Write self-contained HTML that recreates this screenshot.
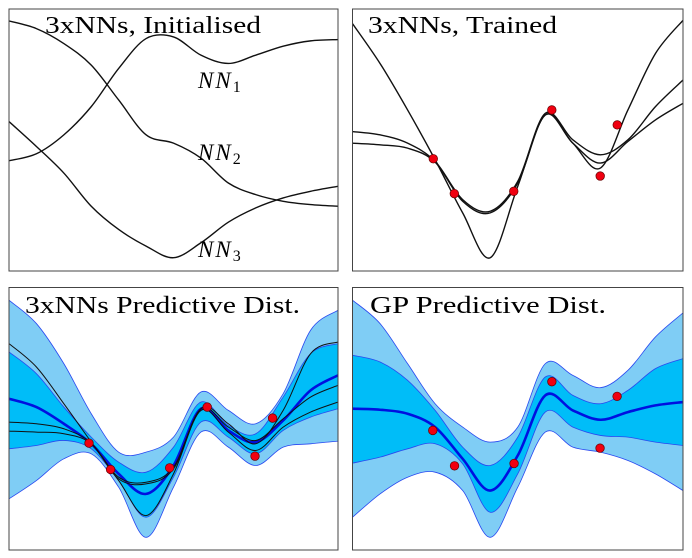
<!DOCTYPE html>
<html><head><meta charset="utf-8"><style>
body{margin:0;background:#fff;width:692px;height:558px;overflow:hidden}
svg{display:block}
text{font-family:"Liberation Serif",serif;fill:#000}
</style></head><body>
<svg id="fig" width="692" height="558"></svg>
<script>
// ---- data (in reading units per panel) ----
const sampleX = [0,1,2,3,4,5,6,7,8,9,10,11,12];
// top-left: initialised networks
const nn1 = [483,462,405,320,205,115,110,165,190,165,138,122,118];
const nn2 = [62,85,130,195,300,405,430,475,550,585,605,615,620];
const nn3 = [365,440,520,620,690,740,775,730,668,625,595,575,560];
// top-right: trained networks
const trainedA = [70,190,330,480,640,775,560,345,430,505,330,160,60];
const trainedB = [395,405,430,485,600,635,545,340,420,465,420,320,240];
const trainedC = [430,435,445,487,605,640,550,345,430,490,425,360,310];
const trainPtsX = [262,325,503,617,762,813];
const trainPtsY = [477,582,575,330,529,375];
// bottom-left: ensemble predictive
const ensOuterUp = [60,130,250,400,515,515,470,335,390,430,340,150,90];
const ensOuterLo = [655,600,535,520,620,770,620,455,500,555,500,490,482];
const ensInnerUp = [215,280,380,470,545,575,500,365,435,460,350,220,190];
const ensInnerLo = [505,495,480,505,600,710,590,425,470,520,450,410,385];
const ensMean = [355,380,430,490,580,640,555,385,450,485,420,330,285];
const ensA = [190,260,370,485,600,705,580,385,430,490,390,220,185];
const ensB = [425,430,445,488,590,605,560,385,440,480,415,350,315];
const ensC = [452,455,460,490,595,610,565,390,455,510,440,395,365];
const ensPtsX = [267,332,510,623,767,820];
const ensPtsY = [488,567,562,380,527,413];
// bottom-right: GP predictive
const gpOuterUp = [60,130,250,370,440,485,440,250,285,322,270,170,98];
const gpOuterLo = [710,640,590,575,630,770,620,455,500,515,540,580,630];
const gpInnerUp = [225,245,300,390,500,555,470,290,345,370,330,265,235];
const gpInnerLo = [548,530,505,490,550,695,580,395,440,465,470,485,495];
const gpMean = [385,388,400,440,535,630,525,345,390,418,395,375,365];
const gpPtsX = [262,327,505,618,762,813];
const gpPtsY = [450,556,549,304,503,348];

const NS='http://www.w3.org/2000/svg';
const svg=document.getElementById('fig');
function mk(tag,attrs,parent){const e=document.createElementNS(NS,tag);for(const k in attrs)e.setAttribute(k,attrs[k]);(parent||svg).appendChild(e);return e;}
function lin(d0,d1,r0,r1){return v=>r0+(v-d0)/(d1-d0)*(r1-r0);}
function pathPts(pts){
  let d='M'+pts[0][0]+','+pts[0][1];
  for(let i=0;i<pts.length-1;i++){
    const p0=pts[Math.max(i-1,0)],p1=pts[i],p2=pts[i+1],p3=pts[Math.min(i+2,pts.length-1)];
    const c1=[p1[0]+(p2[0]-p0[0])/6,p1[1]+(p2[1]-p0[1])/6];
    const c2=[p2[0]-(p3[0]-p1[0])/6,p2[1]-(p3[1]-p1[1])/6];
    d+=' C'+c1+' '+c2+' '+p2;
  }
  return d;
}
function makePanel(name,box,ydom,id){
  const g=mk('g',{});
  
  
  const cp=mk('clipPath',{id:id},g);
  mk('rect',{x:box[0],y:box[1],width:box[2]-box[0],height:box[3]-box[1]},cp);
  const inner=mk('g',{'clip-path':'url(#'+id+')'},g);
  return {g,inner,box,
    x:lin(0,12,box[0],box[2]),
    y:lin(ydom[0],ydom[1],box[1],box[3])};
}
function curve(P,vals,stroke,w,name){
  const pts=sampleX.map((s,i)=>[P.x(s),P.y(vals[i])]);
  const p=mk('path',{d:pathPts(pts),fill:'none',stroke:stroke,'stroke-width':w},P.inner);
  
  
}
function band(P,up,lo,fill,name){
  const a=sampleX.map((s,i)=>[P.x(s),P.y(up[i])]);
  const b=sampleX.map((s,i)=>[P.x(s),P.y(lo[i])]).reverse();
  const d=pathPts(a)+' L'+b[0]+' '+pathPts(b).slice(1)+' Z';
  const p=mk('path',{d:d,fill:fill,stroke:'#2848f0','stroke-width':0.8},P.inner);
  
  
}
function dots(P,xs,ys,xdom,name){
  const sx=lin(xdom[0],xdom[1],P.box[0],P.box[2]);
  xs.forEach((xv,i)=>{
    const c=mk('circle',{cx:sx(xv),cy:P.y(ys[i]),r:4.3,fill:'#f00010',stroke:'#600','stroke-width':0.7},P.inner);
    
    
  });
}
function frame(P){
  const b=P.box;
  const r=mk('rect',{x:b[0],y:b[1],width:b[2]-b[0],height:b[3]-b[1],fill:'none',stroke:'#444','stroke-width':1},P.g);
  
  
}
function label(P,x,y,txt,name,len){
  const t=mk('text',{x:x,y:y,'font-size':24,textLength:len,lengthAdjust:'spacingAndGlyphs'},P.g);
  t.textContent=txt;
  
  
  return t;
}
function nnLabel(P,x,y,sub,name){
  const t=mk('text',{x:x,y:y,'font-size':23,'font-style':'italic','letter-spacing':2},P.g);
  
  
  t.appendChild(document.createTextNode('NN'));
  const s=mk('tspan',{'font-size':16,'font-style':'normal',dy:4},t);
  s.textContent=sub;
}

// top-left
const P1=makePanel('panel-initialised',[9,9,338,271],[26,815],'c1');
curve(P1,nn1,'#111',1.4,'nn1-line');
curve(P1,nn2,'#111',1.4,'nn2-line');
curve(P1,nn3,'#111',1.4,'nn3-line');
frame(P1);
label(P1,45,33,'3xNNs, Initialised','title-initialised',216);
nnLabel(P1,198,88,'1','nn1-label');
nnLabel(P1,198,160,'2','nn2-label');
nnLabel(P1,198,257,'3','nn3-label');

// top-right
const P2=makePanel('panel-trained',[352.5,9,683,271],[26,815],'c2');
curve(P2,trainedA,'#111',1.4,'trained-nn-a');
curve(P2,trainedB,'#111',1.4,'trained-nn-b');
curve(P2,trainedC,'#111',1.4,'trained-nn-c');
dots(P2,trainPtsX,trainPtsY,[20,1010],'data-point');
frame(P2);
label(P2,368,33,'3xNNs, Trained','title-trained',189);

// bottom-left
const P3=makePanel('panel-ensemble-predictive',[9,287.5,338,550],[22,808],'c3');
band(P3,ensOuterUp,ensOuterLo,'#7fcdf5','outer-band');
band(P3,ensInnerUp,ensInnerLo,'#00bdf8','inner-band');
curve(P3,ensMean,'#0010e0',2.6,'mean-line');
curve(P3,ensA,'#111',1,'ensemble-nn-a');
curve(P3,ensB,'#111',1,'ensemble-nn-b');
curve(P3,ensC,'#111',1,'ensemble-nn-c');
dots(P3,ensPtsX,ensPtsY,[26,1017],'data-point');
frame(P3);
label(P3,25,313,'3xNNs Predictive Dist.','title-ensemble-predictive',275);

// bottom-right
const P4=makePanel('panel-gp-predictive',[352.5,287.5,683,550],[22,808],'c4');
band(P4,gpOuterUp,gpOuterLo,'#7fcdf5','outer-band');
band(P4,gpInnerUp,gpInnerLo,'#00bdf8','inner-band');
curve(P4,gpMean,'#0010e0',2.6,'mean-line');
dots(P4,gpPtsX,gpPtsY,[22,1010],'data-point');
frame(P4);
label(P4,370,313,'GP Predictive Dist.','title-gp-predictive',236);
</script>
</body></html>
